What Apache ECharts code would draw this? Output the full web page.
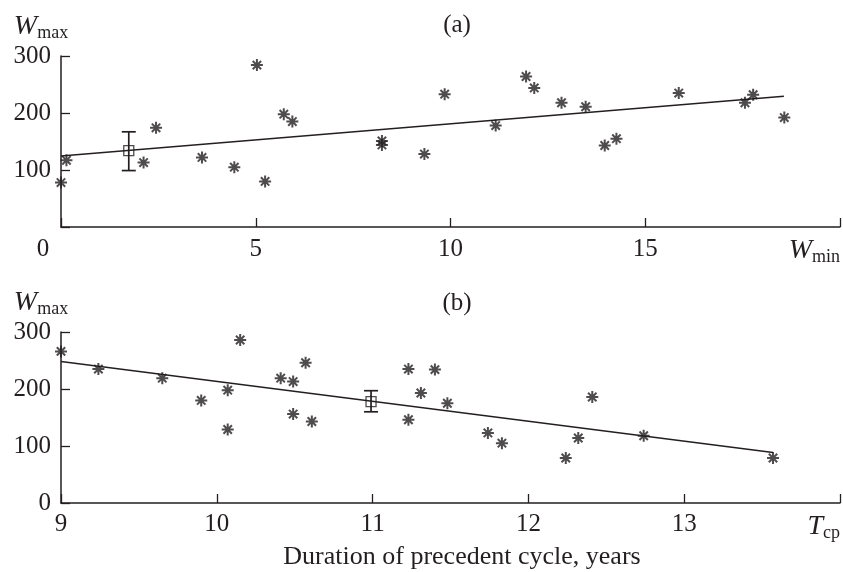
<!DOCTYPE html>
<html>
<head>
<meta charset="utf-8">
<script src="https://cdn.jsdelivr.net/npm/echarts@6/dist/echarts.min.js"></script>
<style>
  html, body { margin: 0; padding: 0; background: #fff; }
  #chart { width: 843px; height: 572px; }
</style>
</head>
<body>
<div id="chart"></div>
<script>
(function() {
  var ink = '#231f20';
  var serif = '"Liberation Serif", "DejaVu Serif", serif';

  // panel (a): W_max vs W_min
  var pointsA = [
    [0, 78], [0.14, 117], [2.12, 113], [2.44, 174], [3.62, 122], [4.45, 105],
    [5.03, 284], [5.24, 80], [5.72, 198], [5.94, 185], [8.24, 151], [8.24, 144],
    [9.33, 128], [9.85, 233], [11.16, 178], [11.94, 264], [12.15, 244], [12.85, 218],
    [13.47, 211], [13.96, 143], [14.26, 155], [15.86, 235], [17.56, 218], [17.77, 232],
    [18.57, 192]
  ];
  var fitA = [[0, 124.6], [18.56, 229.3]];
  var meanA = [[1.74, 134, 99, 167]]; // x, mean, low, high

  // panel (b): W_max vs T_cp
  var pointsB = [
    [9, 266], [9.24, 235], [9.65, 219], [9.90, 180], [10.07, 198], [10.07, 129],
    [10.15, 286], [10.41, 219], [10.49, 213], [10.49, 156], [10.57, 246], [10.61, 143],
    [11.23, 235], [11.23, 146], [11.31, 193], [11.40, 234], [11.48, 175], [11.74, 123],
    [11.83, 105], [12.24, 79], [12.32, 114], [12.41, 186], [12.74, 118], [13.57, 79]
  ];
  var fitB = [[9, 248.2], [13.57, 88.7]];
  var meanB = [[10.99, 178, 160, 197]];

  var star = 'path://M6,0L6,12M0,6L12,6M1.8,1.8L10.2,10.2M10.2,1.8L1.8,10.2';

  function errorBar(params, api) {
    var x = api.value(0);
    var top = api.coord([x, api.value(3)]);
    var bot = api.coord([x, api.value(2)]);
    var st = { stroke: ink, lineWidth: 1.7 };
    var cap = 7;
    return {
      type: 'group',
      children: [
        { type: 'line', shape: { x1: top[0], y1: top[1], x2: bot[0], y2: bot[1] }, style: st },
        { type: 'line', shape: { x1: top[0] - cap, y1: top[1], x2: top[0] + cap, y2: top[1] }, style: st },
        { type: 'line', shape: { x1: bot[0] - cap, y1: bot[1], x2: bot[0] + cap, y2: bot[1] }, style: st }
      ]
    };
  }

  var axisLine = { lineStyle: { color: ink, width: 1.5 } };
  var axisTick = { inside: true, length: 9, lineStyle: { color: ink, width: 1.3 } };
  var labelFont = { color: ink, fontFamily: serif, fontSize: 25 };
  var nameRich = {
    i: { fontFamily: serif, fontStyle: 'italic', fontSize: 28, color: ink },
    s: { fontFamily: serif, fontSize: 18, color: ink, padding: [13, 0, 0, 0] }
  };
  var titleFont = { color: ink, fontFamily: serif, fontSize: 25, fontWeight: 'normal' };

  var chart = echarts.init(document.getElementById('chart'), null, { renderer: 'canvas' });
  chart.setOption({
    animation: false,
    backgroundColor: '#fff',
    title: [
      { text: '(a)', left: 452, top: 8, textAlign: 'center', textStyle: titleFont },
      { text: '(b)', left: 452, top: 286, textAlign: 'center', textStyle: titleFont },
      { text: 'Duration of precedent cycle, years', left: 457, top: 539, textAlign: 'center',
        textStyle: { color: ink, fontFamily: serif, fontSize: 26, fontWeight: 'normal' } }
    ],
    grid: [
      { left: 61, right: 0, top: 56, height: 171 },
      { left: 61, right: 0, top: 332, height: 171 }
    ],
    xAxis: [
      {
        gridIndex: 0, type: 'value', min: 0, max: 20, interval: 5,
        axisLine: axisLine, axisTick: axisTick, splitLine: { show: false },
        axisLabel: Object.assign({}, labelFont, {
          margin: 10,
          formatter: function(v) {
            if (v === 0) return '{z|0}';
            if (v === 20) return '';
            return String(v);
          },
          rich: { z: { fontFamily: serif, fontSize: 25, color: ink, padding: [0, 36, 0, 0] } }
        }),
        name: '{i|W}{s|min}', nameLocation: 'end', nameGap: 0,
        nameTextStyle: { align: 'right', verticalAlign: 'top', padding: [8, 0, 0, 0], rich: nameRich }
      },
      {
        gridIndex: 1, type: 'value', min: 9, max: 14, interval: 1,
        axisLine: axisLine, axisTick: axisTick, splitLine: { show: false },
        axisLabel: Object.assign({}, labelFont, {
          margin: 9,
          formatter: function(v) { return v === 14 ? '' : String(v); }
        }),
        name: '{i|T}{s|cp}', nameLocation: 'end', nameGap: 0,
        nameTextStyle: { align: 'right', verticalAlign: 'top', padding: [8, 0, 0, 0], rich: nameRich }
      }
    ],
    yAxis: [
      {
        gridIndex: 0, type: 'value', min: 0, max: 300, interval: 100,
        axisLine: axisLine, axisTick: axisTick, splitLine: { show: false },
        axisLabel: Object.assign({}, labelFont, {
          margin: 10,
          formatter: function(v) { return v === 0 ? '' : String(v); }
        }),
        name: '{i|W}{s|max}', nameLocation: 'end', nameGap: 14,
        nameTextStyle: { align: 'center', padding: [0, 40, 0, 0], rich: nameRich }
      },
      {
        gridIndex: 1, type: 'value', min: 0, max: 300, interval: 100,
        axisLine: axisLine, axisTick: axisTick, splitLine: { show: false },
        axisLabel: Object.assign({}, labelFont, { margin: 10 }),
        name: '{i|W}{s|max}', nameLocation: 'end', nameGap: 14,
        nameTextStyle: { align: 'center', padding: [0, 40, 0, 0], rich: nameRich }
      }
    ],
    series: [
      {
        type: 'line', xAxisIndex: 0, yAxisIndex: 0, data: fitA,
        symbol: 'none', lineStyle: { color: ink, width: 1.4 }, z: 2
      },
      {
        type: 'scatter', xAxisIndex: 0, yAxisIndex: 0, data: pointsA,
        symbol: star, symbolSize: 12,
        itemStyle: { color: 'none', borderColor: ink, borderWidth: 2 }, z: 3
      },
      {
        type: 'custom', xAxisIndex: 0, yAxisIndex: 0, data: meanA,
        renderItem: errorBar, z: 3
      },
      {
        type: 'scatter', xAxisIndex: 0, yAxisIndex: 0, data: meanA,
        symbol: 'rect', symbolSize: 10,
        itemStyle: { color: 'none', borderColor: ink, borderWidth: 1.3 }, z: 4
      },
      {
        type: 'line', xAxisIndex: 1, yAxisIndex: 1, data: fitB,
        symbol: 'none', lineStyle: { color: ink, width: 1.4 }, z: 2
      },
      {
        type: 'scatter', xAxisIndex: 1, yAxisIndex: 1, data: pointsB,
        symbol: star, symbolSize: 12,
        itemStyle: { color: 'none', borderColor: ink, borderWidth: 2 }, z: 3
      },
      {
        type: 'custom', xAxisIndex: 1, yAxisIndex: 1, data: meanB,
        renderItem: errorBar, z: 3
      },
      {
        type: 'scatter', xAxisIndex: 1, yAxisIndex: 1, data: meanB,
        symbol: 'rect', symbolSize: 10,
        itemStyle: { color: 'none', borderColor: ink, borderWidth: 1.3 }, z: 4
      }
    ]
  });
  window.addEventListener('resize', function() { chart.resize(); });
})();
</script>
</body>
</html>
